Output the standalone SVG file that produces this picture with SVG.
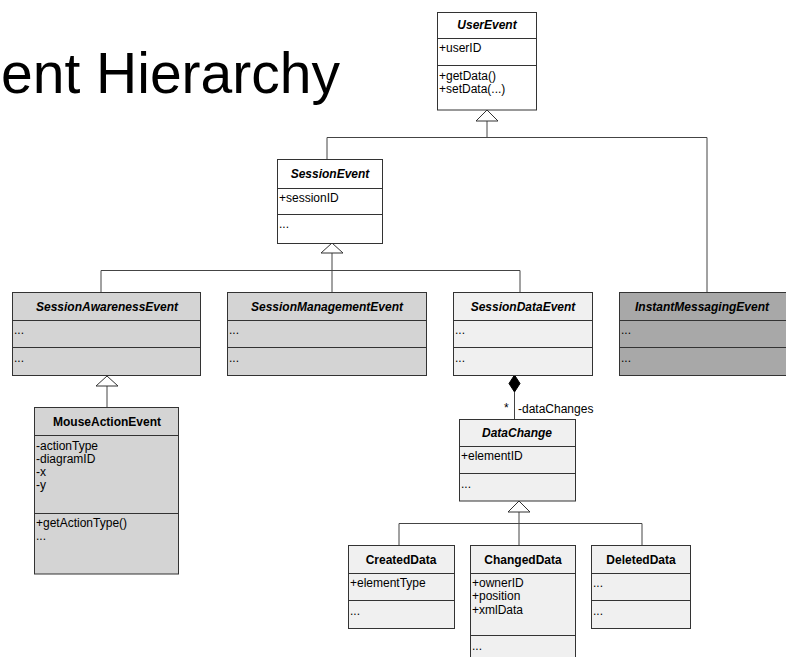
<svg xmlns="http://www.w3.org/2000/svg" width="786" height="657" viewBox="0 0 786 657">
<style>
text{font-family:"Liberation Sans",Arial,sans-serif;fill:#000}
.title{font-size:57px}
.nm{font-size:12px;font-weight:bold;font-style:italic;text-anchor:middle}
.nmc{font-size:12px;font-weight:bold;text-anchor:middle}
.at{font-size:12px}
.box{stroke:#333;stroke-width:1}
.div{stroke:#333;stroke-width:1}
.w{fill:#fff}.l{fill:#f0f0f0}.g{fill:#d4d4d4}.d{fill:#a8a8a8}
.cn{fill:none;stroke:#444;stroke-width:1}
.tri{fill:#fff;stroke:#333;stroke-width:1}
</style>
<rect width="786" height="657" fill="#fff"/>
<text class="title" x="1" y="93">ent Hierarchy</text>

<g id="connectors">
  <polyline class="cn" points="487,121 487,137.5"/>
  <polyline class="cn" points="327,159 327,137.5 707,137.5 707,292"/>
  <polygon class="tri" points="487,110 476,121 498,121"/>
  <polyline class="cn" points="332,253 332,292"/>
  <polyline class="cn" points="101,292 101,270.5 520,270.5 520,292"/>
  <polygon class="tri" points="332,243 321,253 343,253"/>
  <polyline class="cn" points="107,386 107,407"/>
  <polygon class="tri" points="107,376 96,386 118,386"/>
  <polyline class="cn" points="514.5,392 514.5,419"/>
  <polygon points="514.5,375 520,383.5 514.5,392 509,383.5" fill="#000" stroke="#000" stroke-width="1"/>
  <text class="at" x="504" y="412">*</text>
  <text class="at" x="518" y="413">-dataChanges</text>
  <polyline class="cn" points="519,512 519,545"/>
  <polyline class="cn" points="399,545 399,523.5 642,523.5 642,545"/>
  <polygon class="tri" points="519,501 508,512 530,512"/>
</g>

<g id="UserEvent">
  <rect class="box w" x="437.5" y="12.5" width="99" height="97.5"/>
  <line class="div" x1="437.5" y1="38.5" x2="536.5" y2="38.5"/>
  <line class="div" x1="437.5" y1="65.5" x2="536.5" y2="65.5"/>
  <text class="nm" x="487" y="29">UserEvent</text>
  <text class="at" x="439" y="52">+userID</text>
  <text class="at" x="439" y="80">+getData()</text>
  <text class="at" x="439" y="93">+setData(...)</text>
</g>

<g id="SessionEvent">
  <rect class="box w" x="277.5" y="159.5" width="105" height="84"/>
  <line class="div" x1="277.5" y1="188.5" x2="382.5" y2="188.5"/>
  <line class="div" x1="277.5" y1="214.5" x2="382.5" y2="214.5"/>
  <text class="nm" x="330" y="178">SessionEvent</text>
  <text class="at" x="279" y="202">+sessionID</text>
  <text class="at" x="279" y="228">...</text>
</g>

<g id="SessionAwarenessEvent">
  <rect class="box g" x="12.5" y="292.5" width="188" height="83"/>
  <line class="div" x1="12.5" y1="320.5" x2="200.5" y2="320.5"/>
  <line class="div" x1="12.5" y1="347.5" x2="200.5" y2="347.5"/>
  <text class="nm" x="107" y="311">SessionAwarenessEvent</text>
  <text class="at" x="14" y="334">...</text>
  <text class="at" x="14" y="362">...</text>
</g>

<g id="SessionManagementEvent">
  <rect class="box g" x="227.5" y="292.5" width="199" height="83"/>
  <line class="div" x1="227.5" y1="320.5" x2="426.5" y2="320.5"/>
  <line class="div" x1="227.5" y1="347.5" x2="426.5" y2="347.5"/>
  <text class="nm" x="327" y="311">SessionManagementEvent</text>
  <text class="at" x="229" y="334">...</text>
  <text class="at" x="229" y="362">...</text>
</g>

<g id="SessionDataEvent">
  <rect class="box l" x="453.5" y="292.5" width="139" height="83"/>
  <line class="div" x1="453.5" y1="320.5" x2="592.5" y2="320.5"/>
  <line class="div" x1="453.5" y1="347.5" x2="592.5" y2="347.5"/>
  <text class="nm" x="523" y="311">SessionDataEvent</text>
  <text class="at" x="455" y="334">...</text>
  <text class="at" x="455" y="362">...</text>
</g>

<g id="InstantMessagingEvent">
  <rect class="box d" x="619.5" y="292.5" width="180" height="83"/>
  <line class="div" x1="619.5" y1="320.5" x2="799.5" y2="320.5"/>
  <line class="div" x1="619.5" y1="347.5" x2="799.5" y2="347.5"/>
  <text class="nm" x="702" y="311">InstantMessagingEvent</text>
  <text class="at" x="621" y="334">...</text>
  <text class="at" x="621" y="362">...</text>
</g>

<g id="MouseActionEvent">
  <rect class="box g" x="34.5" y="407.5" width="144" height="166.5"/>
  <line class="div" x1="34.5" y1="435.5" x2="178.5" y2="435.5"/>
  <line class="div" x1="34.5" y1="513.5" x2="178.5" y2="513.5"/>
  <text class="nmc" x="107" y="426">MouseActionEvent</text>
  <text class="at" x="36" y="450">-actionType</text>
  <text class="at" x="36" y="463">-diagramID</text>
  <text class="at" x="36" y="476">-x</text>
  <text class="at" x="36" y="489">-y</text>
  <text class="at" x="36" y="527">+getActionType()</text>
  <text class="at" x="36" y="540">...</text>
</g>

<g id="DataChange">
  <rect class="box l" x="459.5" y="419.5" width="116" height="81.5"/>
  <line class="div" x1="459.5" y1="446.5" x2="575.5" y2="446.5"/>
  <line class="div" x1="459.5" y1="473.5" x2="575.5" y2="473.5"/>
  <text class="nm" x="517" y="437">DataChange</text>
  <text class="at" x="461" y="460">+elementID</text>
  <text class="at" x="461" y="488">...</text>
</g>

<g id="CreatedData">
  <rect class="box l" x="348.5" y="545.5" width="106" height="83"/>
  <line class="div" x1="348.5" y1="573.5" x2="454.5" y2="573.5"/>
  <line class="div" x1="348.5" y1="600.5" x2="454.5" y2="600.5"/>
  <text class="nmc" x="401" y="564">CreatedData</text>
  <text class="at" x="350" y="587">+elementType</text>
  <text class="at" x="350" y="615">...</text>
</g>

<g id="ChangedData">
  <rect class="box l" x="470.5" y="545.5" width="105" height="130"/>
  <line class="div" x1="470.5" y1="573.5" x2="575.5" y2="573.5"/>
  <line class="div" x1="470.5" y1="635.5" x2="575.5" y2="635.5"/>
  <text class="nmc" x="523" y="564">ChangedData</text>
  <text class="at" x="472" y="587">+ownerID</text>
  <text class="at" x="472" y="600">+position</text>
  <text class="at" x="472" y="614">+xmlData</text>
  <text class="at" x="472" y="650">...</text>
</g>

<g id="DeletedData">
  <rect class="box l" x="591.5" y="545.5" width="99" height="83"/>
  <line class="div" x1="591.5" y1="573.5" x2="690.5" y2="573.5"/>
  <line class="div" x1="591.5" y1="600.5" x2="690.5" y2="600.5"/>
  <text class="nmc" x="641" y="564">DeletedData</text>
  <text class="at" x="593" y="587">...</text>
  <text class="at" x="593" y="615">...</text>
</g>
</svg>
